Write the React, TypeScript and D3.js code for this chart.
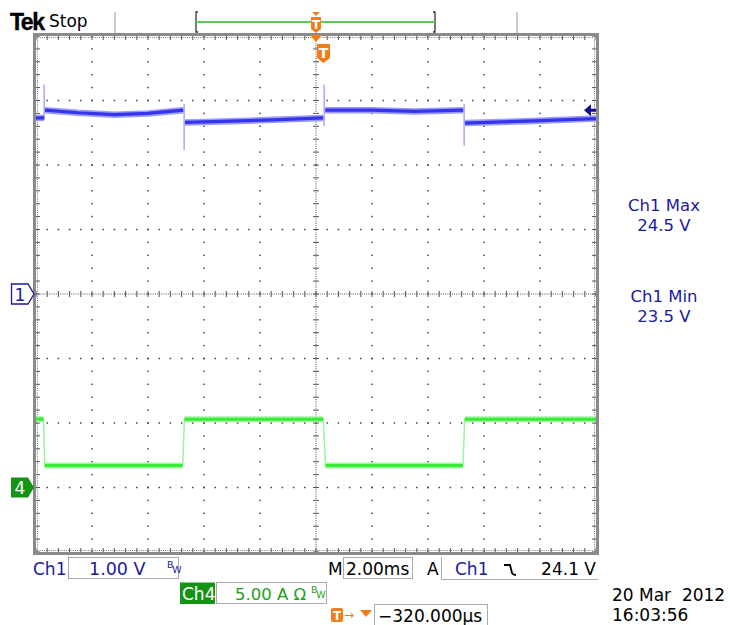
import React from "react";
import * as d3 from "d3";

// ---- data (time in ms, Ch1 in volts, Ch4 in amps) ----
const timeDomain = [0, 20];
const ch1Times = [0, 0.29, 0.32, 1.5, 2.8, 4.0, 5.26, 5.32, 7.0, 8.5, 10.26, 10.33, 12.0, 13.5, 15.26, 15.32, 17.5, 20];
const ch1Volts = [23.98, 23.98, 24.1, 24.06, 24.03, 24.05, 24.1, 23.91, 23.93, 23.95, 23.98, 24.1, 24.1, 24.08, 24.1, 23.9, 23.93, 23.97];
const ch1SpikeTimes = [0.29, 5.29, 10.29, 15.29];
const ch1SpikeTop = [24.5, 24.2, 24.5, 24.2];
const ch1SpikeBottom = [23.95, 23.48, 23.85, 23.55];
const ch4Times = [0, 0.27, 0.31, 5.24, 5.3, 10.26, 10.34, 15.25, 15.31, 20];
const ch4Amps = [5.3, 5.3, 1.7, 1.7, 5.3, 5.3, 1.7, 1.7, 5.3, 5.3];
const ch1Center = 21.25; // volts at centre line
const ch1VoltsPerDiv = 1.0;
const ch4AmpsPerDiv = 5.0;
const ch4OffsetDiv = -3;
const triggerLevel = 24.1;
const measureLabels = ["Ch1 Max", "Ch1 Min"];
const measureValues = ["24.5 V", "23.5 V"];

const BLUE = "#1a1aa0";
const TRACE_BLUE = "#3434ec";
const GREEN_TXT = "#22a022";
const TRACE_GREEN = "#36ea36";
const ORANGE = "#f07d1a";
const FONT = "DejaVu Sans, Verdana, sans-serif";

const L = 36, R = 596, T = 36, B = 552;
const x = d3.scaleLinear().domain(timeDomain).range([L, R]);
const yDiv = d3.scaleLinear().domain([-4, 4]).range([B, T]);
const y1 = (v: number) => yDiv((v - ch1Center) / ch1VoltsPerDiv);
const y4 = (a: number) => yDiv(a / ch4AmpsPerDiv + ch4OffsetDiv);

function splitSegments(ts: number[], vs: number[]) {
  const segs: [number, number][][] = [];
  const edges: [number, number][][] = [];
  let cur: [number, number][] = [[ts[0], vs[0]]];
  for (let i = 1; i < ts.length; i++) {
    if (ts[i] - ts[i - 1] < 0.12) {
      segs.push(cur);
      edges.push([[ts[i - 1], vs[i - 1]], [ts[i], vs[i]]]);
      cur = [[ts[i], vs[i]]];
    } else cur.push([ts[i], vs[i]]);
  }
  segs.push(cur);
  return { segs, edges };
}

function BW({ x0, y0, color }: { x0: number; y0: number; color: string }) {
  return (
    <text x={x0} y={y0} fill={color} fontFamily={FONT} fontSize={9.5}>
      B<tspan dx={-1} dy={5}>W</tspan>
    </text>
  );
}

export default function App() {
  const c1 = splitSegments(ch1Times, ch1Volts);
  const c4 = splitSegments(ch4Times, ch4Amps);
  const line1 = d3.line<[number, number]>().x((d) => x(d[0])).y((d) => y1(d[1]));
  const line4 = d3.line<[number, number]>().x((d) => x(d[0])).y((d) => y4(d[1]));

  const divX = d3.range(0, 11).map((i) => L + (i * (R - L)) / 10);
  const divY = d3.range(0, 9).map((j) => T + (j * (B - T)) / 8);
  const minorX = d3.range(0, 51).map((k) => L + (k * (R - L)) / 50);
  const minorY = d3.range(0, 41).map((k) => T + (k * (B - T)) / 40);
  const cx = divX[5], cy = divY[4];

  const dots: JSX.Element[] = [];
  divX.forEach((gx, i) => {
    if (i === 0 || i === 10 || i === 5) return;
    minorY.forEach((gy, k) => dots.push(<rect key={`v${i}-${k}`} x={gx - 0.75} y={gy - 0.75} width={1.5} height={1.5} fill="#444" />));
  });
  divY.forEach((gy, j) => {
    if (j === 0 || j === 8 || j === 4) return;
    minorX.forEach((gx, k) => dots.push(<rect key={`h${j}-${k}`} x={gx - 0.75} y={gy - 0.75} width={1.5} height={1.5} fill="#444" />));
  });

  const ticks: JSX.Element[] = [];
  minorX.forEach((gx, k) => {
    ticks.push(<line key={`ct${k}`} x1={gx} x2={gx} y1={cy - 3} y2={cy + 3} stroke="#555" strokeWidth={1} />);
    ticks.push(<line key={`tt${k}`} x1={gx} x2={gx} y1={T} y2={T + 4} stroke="#555" strokeWidth={1} />);
    ticks.push(<line key={`bt${k}`} x1={gx} x2={gx} y1={B - 4} y2={B} stroke="#555" strokeWidth={1} />);
  });
  minorY.forEach((gy, k) => {
    ticks.push(<line key={`cv${k}`} x1={cx - 3} x2={cx + 3} y1={gy} y2={gy} stroke="#555" strokeWidth={1} />);
    ticks.push(<line key={`lv${k}`} x1={L} x2={L + 4} y1={gy} y2={gy} stroke="#555" strokeWidth={1} />);
    ticks.push(<line key={`rv${k}`} x1={R - 4} x2={R} y1={gy} y2={gy} stroke="#555" strokeWidth={1} />);
  });

  const trigY = y1(triggerLevel);
  const trigX = x(10);

  return (
    <div style={{ position: "absolute", left: 0, top: 0 }}>
      <svg width={730} height={625} style={{ display: "block", background: "#fff" }}>
        <rect x={0} y={0} width={730} height={625} fill="#fff" />
        {/* top bar */}
        <text x={10} y={30} fontFamily="Liberation Sans, Arial, sans-serif" fontWeight="bold" fontSize={23} letterSpacing={-1.5} fill="#000" stroke="#000" strokeWidth={0.4}>Tek</text>
        <text x={49} y={27} fontFamily={FONT} fontSize={17} fill="#000">Stop</text>
        <line x1={115} x2={115} y1={12} y2={33} stroke="#bbb" strokeWidth={1.5} />
        <line x1={517} x2={517} y1={12} y2={33} stroke="#bbb" strokeWidth={1.5} />
        <path d="M198,12 H196 V32 H198" fill="none" stroke="#333" strokeWidth={1.3} />
        <path d="M433,12 H435 V32 H433" fill="none" stroke="#333" strokeWidth={1.3} />
        <line x1={196} x2={435} y1={22} y2={22} stroke="#5cc85c" strokeWidth={2} />
        <path d={`M${trigX - 4},12 L${trigX + 4},12 L${trigX},16 Z`} fill={ORANGE} />
        <path d={`M${trigX - 5},17 H${trigX + 5} V29 L${trigX},33 L${trigX - 5},29 Z`} fill={ORANGE} />
        <text x={trigX} y={29} textAnchor="middle" fontFamily={FONT} fontWeight="bold" fontSize={12} fill="#fff">T</text>

        {/* graticule */}
        {dots}
        <line x1={L} x2={R} y1={cy} y2={cy} stroke="#555" strokeWidth={1} strokeDasharray="1,1.2" />
        <line x1={cx} x2={cx} y1={T} y2={B} stroke="#555" strokeWidth={1} strokeDasharray="1,1.2" />
        <line x1={L + 1.5} x2={R - 1.5} y1={T + 1.5} y2={T + 1.5} stroke="#777" strokeWidth={1} strokeDasharray="1,1.2" />
        <line x1={L + 1.5} x2={R - 1.5} y1={B - 1.5} y2={B - 1.5} stroke="#777" strokeWidth={1} strokeDasharray="1,1.2" />
        <line x1={L + 1.5} x2={L + 1.5} y1={T} y2={B} stroke="#777" strokeWidth={1} strokeDasharray="1,1.2" />
        <line x1={R - 1.5} x2={R - 1.5} y1={T} y2={B} stroke="#777" strokeWidth={1} strokeDasharray="1,1.2" />
        {ticks}
        <rect x={L - 1.5} y={T - 1.5} width={R - L + 3} height={B - T + 3} fill="none" stroke="#8a8a8a" strokeWidth={3} />

        {/* trigger position marker under bar */}
        <path d={`M${trigX - 6},35 L${trigX + 6},35 L${trigX},42 Z`} fill={ORANGE} />
        <path d={`M${trigX + 1},44 H${trigX + 14} V58 L${trigX + 7.5},63 L${trigX + 1},58 Z`} fill={ORANGE} />
        <text x={trigX + 7.5} y={58} textAnchor="middle" fontFamily={FONT} fontWeight="bold" fontSize={14} fill="#fff">T</text>

        {/* Ch4 trace */}
        {c4.edges.map((e, i) => (
          <path key={`e4${i}`} d={line4(e) || ""} fill="none" stroke="#9af59a" strokeWidth={1.5} />
        ))}
        {c4.segs.map((s, i) => (
          <g key={`s4${i}`}>
            <path d={line4(s) || ""} fill="none" stroke="#a4f4a4" strokeWidth={6} />
            <path d={line4(s) || ""} fill="none" stroke={TRACE_GREEN} strokeWidth={3} />
          </g>
        ))}

        {/* Ch1 trace */}
        {ch1SpikeTimes.map((t, i) => (
          <line key={`sp${i}`} x1={x(t)} x2={x(t)} y1={y1(ch1SpikeTop[i])} y2={y1(ch1SpikeBottom[i])} stroke="#9a9af5" strokeWidth={1.3} />
        ))}
        {c1.segs.map((s, i) => (
          <g key={`s1${i}`}>
            <path d={line1(s) || ""} fill="none" stroke="#9c9cf4" strokeWidth={6.5} />
            <path d={line1(s) || ""} fill="none" stroke={TRACE_BLUE} strokeWidth={3.2} />
          </g>
        ))}

        {/* trigger level arrow */}
        <path d={`M${R - 12},${trigY} L${R - 5},${trigY - 6} V${trigY - 1.5} H${R} V${trigY + 1.5} H${R - 5} V${trigY + 6} Z`} fill="#10108a" />

        {/* channel markers */}
        <path d={`M11.5,${cy - 10} H28 L34,${cy} L28,${cy + 10} H11.5 Z`} fill="#fff" stroke={BLUE} strokeWidth={1.3} />
        <text x={20} y={cy + 6.5} textAnchor="middle" fontFamily={FONT} fontSize={17} fill={BLUE}>1</text>
        <path d={`M11,${yDiv(ch4OffsetDiv) - 10} H28 L34,${yDiv(ch4OffsetDiv)} L28,${yDiv(ch4OffsetDiv) + 10} H11 Z`} fill="#149414" />
        <text x={20} y={yDiv(ch4OffsetDiv) + 6.5} textAnchor="middle" fontFamily={FONT} fontSize={17} fill="#fff">4</text>

        {/* measurements */}
        {measureLabels.map((lab, i) => (
          <g key={lab} fontFamily={FONT} fontSize={16.5} fill={BLUE} textAnchor="middle">
            <text x={664} y={211 + i * 91}>{lab}</text>
            <text x={664} y={231 + i * 91}>{measureValues[i]}</text>
          </g>
        ))}

        {/* bottom readouts */}
        <g fontFamily={FONT} fontSize={17}>
          <text x={33} y={575} fill={BLUE}>Ch1</text>
          <rect x={68.5} y={557.5} width={110} height={21} fill="#fff" stroke="#aaa" strokeWidth={1} />
          <text x={89} y={575} fill={BLUE} fontSize={17.5}>1.00 V</text>
          <BW x0={167} y0={568} color={BLUE} />

          <text x={328} y={575} fill="#000">M</text>
          <rect x={343.5} y={557.5} width={69} height={21} fill="#fff" stroke="#aaa" strokeWidth={1} />
          <text x={346} y={575} fill="#000">2.00ms</text>
          <text x={427} y={575} fill="#000">A</text>
          <path d="M441.5,557 V579.5 H598" fill="none" stroke="#aaa" strokeWidth={1} />
          <text x={455} y={575} fill={BLUE}>Ch1</text>
          <path d="M504,565 H510 L512,573 Q513,575 516,575" fill="none" stroke="#000" strokeWidth={1.8} />
          <text x={596} y={575} fill="#000" textAnchor="end">24.1 V</text>

          <rect x={180} y={582.5} width={35} height={21.5} fill="#149414" />
          <text x={182} y={600} fill="#fff">Ch4</text>
          <rect x={216.5} y={582.5} width={110} height={21} fill="#fff" stroke="#aaa" strokeWidth={1} />
          <text x={235} y={600} fill={GREEN_TXT} fontSize={16.5}>5.00 A Ω</text>
          <BW x0={311} y0={593} color={GREEN_TXT} />

          <rect x={331} y={608} width={12} height={14} rx={2} fill={ORANGE} />
          <text x={337} y={620} textAnchor="middle" fill="#fff" fontSize={12} fontWeight="bold">T</text>
          <text x={344} y={619} fill={ORANGE} fontSize={12}>→</text>
          <path d="M360,610 L372,610 L366,617 Z" fill={ORANGE} />
          <rect x={374.5} y={604.5} width={113} height={21} fill="#fff" stroke="#aaa" strokeWidth={1} />
          <text x={378} y={622} fill="#000">−320.000µs</text>

          <text x={612} y={601} fill="#000" style={{ whiteSpace: "pre" }}>20 Mar  2012</text>
          <text x={612} y={621} fill="#000">16:03:56</text>
        </g>
      </svg>
    </div>
  );
}
